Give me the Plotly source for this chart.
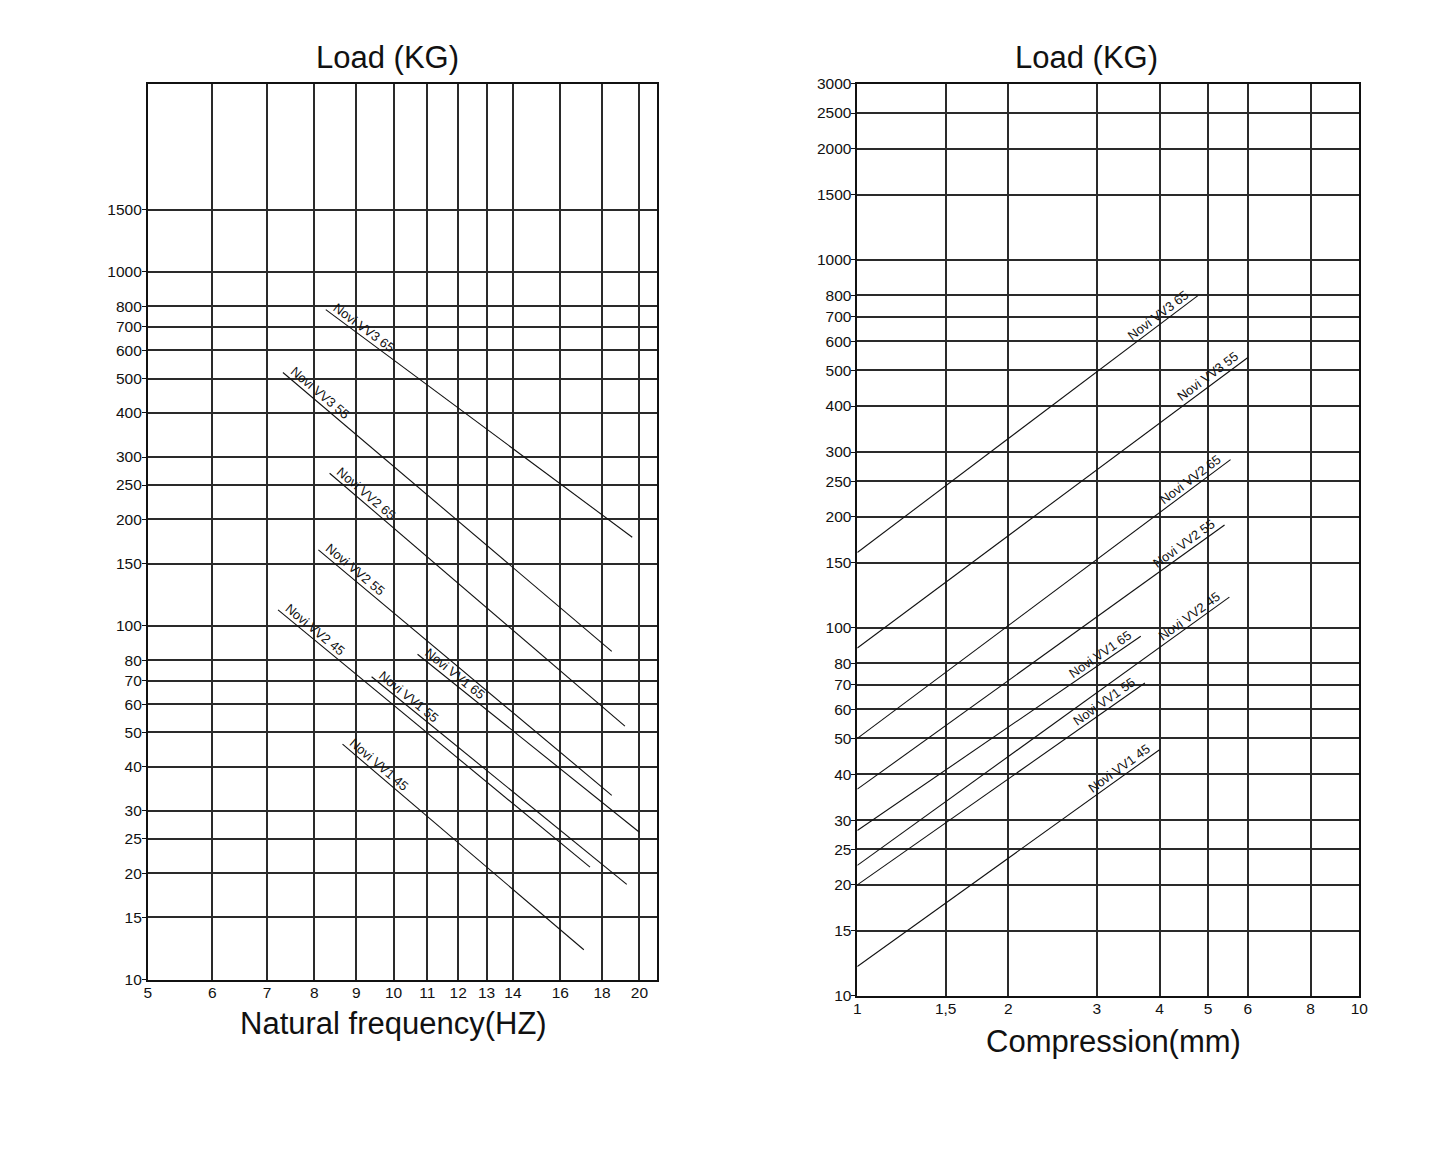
import math
import plotly.graph_objects as go

W, H = 1445, 1156
FONT = "Liberation Sans, Arial, sans-serif"

# measured from earlier renders: window pixel = O + S * figure pixel
OX, SX = 11.0, 0.993
OY, SY = 16.0, 0.9866

# --- left chart: load vs natural frequency ---
freq_series = ["Novi VV3 65", "Novi VV3 55", "Novi VV2 65", "Novi VV2 55",
               "Novi VV2 45", "Novi VV1 65", "Novi VV1 55", "Novi VV1 45"]
freq_start_hz = [8.26, 7.32, 8.35, 8.09, 7.22, 10.7, 9.4, 8.66]
freq_end_hz = [19.6, 18.5, 19.2, 18.5, 17.4, 20.0, 19.3, 17.1]
freq_start_kg = [783, 520, 270, 164, 111, 83.1, 71.8, 46.3]
freq_end_kg = [178, 84.7, 52.1, 33.2, 20.8, 26.1, 18.6, 12.15]

freq_ticks = [5, 6, 7, 8, 9, 10, 11, 12, 13, 14, 16, 18, 20]
freq_load_ticks = [10, 15, 20, 25, 30, 40, 50, 60, 70, 80, 100, 150, 200, 250,
                   300, 400, 500, 600, 700, 800, 1000, 1500]

# --- right chart: load vs compression ---
comp_series = ["Novi VV3 65", "Novi VV3 55", "Novi VV2 65", "Novi VV2 55",
               "Novi VV2 45", "Novi VV1 65", "Novi VV1 55", "Novi VV1 45"]
comp_start_mm = [1, 1, 1, 1, 1, 1, 1, 1]
comp_end_mm = [4.77, 6.0, 5.54, 5.39, 5.51, 3.67, 3.74, 4.0]
comp_start_kg = [160, 88, 50, 36.4, 22.6, 28.1, 20, 12.0]
comp_end_kg = [798, 542, 286, 190, 121, 94.7, 70.7, 46.6]

comp_ticks = [1, 1.5, 2, 3, 4, 5, 6, 8, 10]
comp_tick_text = ["1", "1,5", "2", "3", "4", "5", "6", "8", "10"]
comp_load_ticks = [10, 15, 20, 25, 30, 40, 50, 60, 70, 80, 100, 150, 200, 250,
                   300, 400, 500, 600, 700, 800, 1000, 1500, 2000, 2500, 3000]


def fx(t):
    return (t - OX) / SX


def fy(t):
    return (t - OY) / SY


# plot areas in figure pixels (left, right, bottom, top)
L_BOX = (fx(147), fx(657), fy(980), fy(83))
R_BOX = (fx(858), fx(1361), fy(996), fy(83))
L_XR = [math.log10(5), math.log10(21)]
L_YR = [1, math.log10(3400)]
R_XR = [0, 1]
R_YR = [1, math.log10(3000)]


def to_px(v, rng, p0, p1):
    f = (math.log10(v) - rng[0]) / (rng[1] - rng[0])
    return p0 + f * (p1 - p0)


def screen_angle(x0, y0, x1, y1, box, xr, yr):
    X0 = to_px(x0, xr, box[0], box[1])
    X1 = to_px(x1, xr, box[0], box[1])
    Y0 = to_px(y0, yr, box[2], box[3])
    Y1 = to_px(y1, yr, box[2], box[3])
    return math.atan2(Y1 - Y0, X1 - X0)


fig = go.Figure()
annotations = []

for i, name in enumerate(freq_series):
    fig.add_trace(go.Scatter(
        x=[freq_start_hz[i], freq_end_hz[i]],
        y=[freq_start_kg[i], freq_end_kg[i]],
        mode="lines", line=dict(color="#111111", width=1.1),
        xaxis="x", yaxis="y", name=name, showlegend=False,
        hovertemplate=name + "<br>%{x} Hz<br>%{y} kg<extra></extra>"
    ))
    # label sits just above the start of the line
    ang = screen_angle(freq_start_hz[i], freq_start_kg[i], freq_end_hz[i], freq_end_kg[i],
                       L_BOX, L_XR, L_YR)
    c, s = math.cos(ang), math.sin(ang)
    A, P = 41, 8.5
    annotations.append(dict(
        x=math.log10(freq_start_hz[i]), y=math.log10(freq_start_kg[i]),
        xref="x", yref="y", text=name, showarrow=False,
        textangle=math.degrees(ang),
        xshift=A * c + P * s, yshift=-(A * s - P * c),
        xanchor="center", yanchor="middle",
        font=dict(family=FONT, size=13, color="#111111")
    ))

for i, name in enumerate(comp_series):
    fig.add_trace(go.Scatter(
        x=[comp_start_mm[i], comp_end_mm[i]],
        y=[comp_start_kg[i], comp_end_kg[i]],
        mode="lines", line=dict(color="#111111", width=1.1),
        xaxis="x2", yaxis="y2", name=name, showlegend=False,
        hovertemplate=name + "<br>%{x} mm<br>%{y} kg<extra></extra>"
    ))
    # label sits just above the end of the line
    ang = screen_angle(comp_start_mm[i], comp_start_kg[i], comp_end_mm[i], comp_end_kg[i],
                       R_BOX, R_XR, R_YR)
    c, s = math.cos(ang), math.sin(ang)
    A, P = 44, 8.5
    annotations.append(dict(
        x=math.log10(comp_end_mm[i]), y=math.log10(comp_end_kg[i]),
        xref="x2", yref="y2", text=name, showarrow=False,
        textangle=math.degrees(ang),
        xshift=-A * c + P * s, yshift=A * s + P * c,
        xanchor="center", yanchor="middle",
        font=dict(family=FONT, size=13, color="#111111")
    ))

# titles (window pixel centres)
for txt, px, py in [("Load (KG)", 387, 57), ("Load (KG)", 1087.5, 57),
                    ("Natural frequency(HZ)", 393.5, 1024),
                    ("Compression(mm)", 1114.5, 1042)]:
    annotations.append(dict(
        x=fx(px) / W, y=1 - fy(py) / H, xref="paper", yref="paper",
        text=txt, showarrow=False, xanchor="center", yanchor="middle",
        font=dict(family=FONT, size=31, color="#111111")
    ))

axis_style = dict(
    type="log", showgrid=True, gridcolor="#2a2a2a", gridwidth=1.6,
    showline=True, linecolor="#111111", linewidth=1.6, mirror=True,
    zeroline=False, fixedrange=True,
    tickfont=dict(family=FONT, size=15.5, color="#111111")
)
x_style = dict(axis_style, ticks="", ticklabelstandoff=-2)
y_style = dict(axis_style, ticks="outside", ticklen=4, tickcolor="#111111",
               tickwidth=1.4, ticklabelstandoff=-3)

fig.update_layout(
    width=W, height=H,
    margin=dict(l=0, r=0, t=0, b=0),
    paper_bgcolor="white", plot_bgcolor="white",
    font=dict(family=FONT, color="#111111"),
    xaxis=dict(x_style, domain=[L_BOX[0] / W, L_BOX[1] / W], range=L_XR,
               anchor="y", tickvals=freq_ticks,
               ticktext=[str(t) for t in freq_ticks]),
    yaxis=dict(y_style, domain=[1 - L_BOX[2] / H, 1 - L_BOX[3] / H], range=L_YR,
               anchor="x", tickvals=freq_load_ticks,
               ticktext=[str(t) for t in freq_load_ticks]),
    xaxis2=dict(x_style, domain=[R_BOX[0] / W, R_BOX[1] / W], range=R_XR,
                anchor="y2", tickvals=comp_ticks, ticktext=comp_tick_text),
    yaxis2=dict(y_style, domain=[1 - R_BOX[2] / H, 1 - R_BOX[3] / H], range=R_YR,
                anchor="x2", tickvals=comp_load_ticks,
                ticktext=[str(t) for t in comp_load_ticks]),
    annotations=annotations,
    showlegend=False
)

fig.write_html("out.html")
